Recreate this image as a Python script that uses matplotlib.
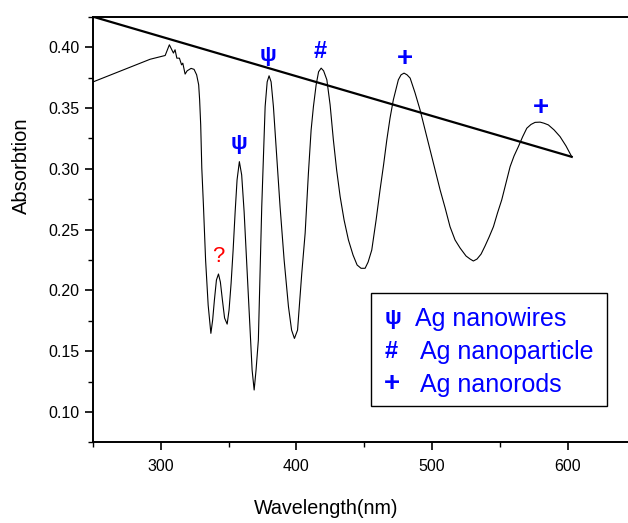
import matplotlib
matplotlib.use("Agg")
import matplotlib.pyplot as plt
from matplotlib.ticker import MultipleLocator, FormatStrFormatter
from matplotlib.patches import Rectangle

plt.rcParams['font.family'] = ['Liberation Sans', 'DejaVu Sans']

# ---- data ----
wavelength = [250.1, 292.1, 303.2, 306.3, 309.3, 310.5, 311.8, 313.7, 315.3, 316.2,
              317.9, 319.4, 322.3, 324.5, 326.4, 327.9, 328.6, 329.4, 330.2, 331.4,
              333.0, 334.9, 336.9, 338.2, 339.5, 341.0, 342.5, 343.9, 345.4, 347.0,
              348.9, 350.3, 351.8, 353.3, 354.8, 356.2, 357.9, 359.6, 361.4, 363.6,
              365.8, 367.3, 368.8, 370.2, 371.9, 373.2, 374.4, 375.8, 376.9, 378.4,
              379.8, 381.3, 383.0, 385.4, 387.9, 390.9, 394.1, 396.4, 398.5, 400.8,
              403.9, 406.4, 408.8, 410.8, 412.5, 414.5, 416.3, 418.2, 420.0, 422.4,
              424.8, 427.2, 429.6, 432.2, 435.1, 438.3, 441.7, 444.7, 447.6, 450.6,
              452.8, 455.5, 458.7, 461.6, 464.2, 466.6, 469.0, 471.4, 475.1, 477.1,
              479.3, 481.5, 483.8, 487.4, 491.1, 494.8, 498.5, 502.2, 505.9, 509.6,
              513.2, 516.9, 520.6, 525.0, 528.0, 530.4, 533.1, 536.1, 539.0, 542.0,
              545.2, 548.2, 551.3, 554.5, 557.5, 560.4, 563.6, 566.7, 569.8, 572.9,
              575.9, 579.6, 582.5, 585.7, 589.9, 594.3, 598.7, 602.9]
absorption = [0.3714, 0.3900, 0.3931, 0.4019, 0.3951, 0.3978, 0.3909, 0.3909, 0.3854, 0.3868,
              0.3778, 0.3805, 0.3825, 0.3817, 0.3772, 0.3690, 0.3567, 0.3360, 0.3006, 0.2702,
              0.2249, 0.1878, 0.1646, 0.1755, 0.1920, 0.2085, 0.2134, 0.2068, 0.1920, 0.1772,
              0.1722, 0.1838, 0.2057, 0.2331, 0.2647, 0.2908, 0.3058, 0.2949, 0.2647, 0.2167,
              0.1673, 0.1344, 0.1180, 0.1344, 0.1591, 0.2167, 0.2688, 0.3155, 0.3511, 0.3714,
              0.3764, 0.3714, 0.3511, 0.3113, 0.2688, 0.2249, 0.1865, 0.1673, 0.1604, 0.1673,
              0.2139, 0.2471, 0.2963, 0.3319, 0.3511, 0.3690, 0.3797, 0.3827, 0.3805, 0.3731,
              0.3525, 0.3237, 0.2990, 0.2770, 0.2578, 0.2414, 0.2290, 0.2208, 0.2181, 0.2181,
              0.2232, 0.2331, 0.2578, 0.2825, 0.3031, 0.3237, 0.3418, 0.3566, 0.3731, 0.3772,
              0.3786, 0.3772, 0.3745, 0.3624, 0.3484, 0.3319, 0.3155, 0.2990, 0.2825, 0.2677,
              0.2523, 0.2414, 0.2348, 0.2282, 0.2257, 0.2241, 0.2257, 0.2298, 0.2364, 0.2438,
              0.2523, 0.2636, 0.2743, 0.2883, 0.3017, 0.3105, 0.3182, 0.3262, 0.3333, 0.3364,
              0.3381, 0.3383, 0.3374, 0.3360, 0.3319, 0.3264, 0.3187, 0.3099]

baseline_x = [250.0, 603.7]
baseline_y = [0.425, 0.3095]

peak_symbols = ['ψ', 'ψ', '#', '+', '+']
peak_x = [357.9, 379.3, 417.4, 479.6, 580.1]
peak_y = [0.321, 0.3935, 0.3964, 0.390, 0.3503]

unknown_label = '?'
unknown_x = 342.0
unknown_y = 0.2282

legend_symbols = ['ψ', '#', '+']
legend_labels = ['Ag nanowires', 'Ag nanoparticle', 'Ag nanorods']

x_ticks = [300, 400, 500, 600]
y_ticks = [0.10, 0.15, 0.20, 0.25, 0.30, 0.35, 0.40]

SYM_SIZE = {'ψ': 16, '#': 17, '+': 20}

# ---- figure ----
W, H = 628, 523
fig = plt.figure(figsize=(W / 100, H / 100), dpi=100)
ax_l, ax_r, ax_t, ax_b = 93, 628, 16.7, 442.3
ax = fig.add_axes([ax_l / W, 1 - ax_b / H, (ax_r - ax_l) / W, (ax_b - ax_t) / H])

ax.plot(wavelength, absorption, color='black', lw=0.8)
ax.plot(baseline_x, baseline_y, color='black', lw=1.6, solid_capstyle='butt')

ax.set_xlim(250, 644.4)
ax.set_ylim(0.075, 0.425)

ax.set_xticks(x_ticks)
ax.set_yticks(y_ticks)
ax.xaxis.set_minor_locator(MultipleLocator(50))
ax.yaxis.set_minor_locator(MultipleLocator(0.025))
ax.yaxis.set_major_formatter(FormatStrFormatter('%.2f'))

for s in ['left', 'bottom', 'top']:
    ax.spines[s].set_linewidth(1.4)
ax.spines['right'].set_visible(False)

ax.tick_params(which='major', direction='out', length=6, width=1.2, labelsize=11.5,
               top=False, right=False)
ax.tick_params(which='minor', direction='out', length=3.5, width=1.0,
               top=False, right=False)
ax.tick_params(axis='x', which='major', pad=6)
ax.tick_params(axis='y', which='major', pad=3.5)

fig.text(21 / W, 1 - 166 / H, 'Absorbtion', rotation=90, ha='center', va='center',
         fontsize=14.5)
fig.text(326 / W, 1 - 508 / H, 'Wavelength(nm)', ha='center', va='center', fontsize=14.2)

for sym, px, py in zip(peak_symbols, peak_x, peak_y):
    ax.text(px, py, sym, color='blue', fontsize=SYM_SIZE[sym], fontweight='bold',
            ha='center', va='center')
ax.text(unknown_x, unknown_y, unknown_label, color='red', fontsize=16,
        ha='center', va='center')

# legend box (manual, to match the original layout)
bx0, bx1 = (371.3 - ax_l) / (ax_r - ax_l), (606.7 - ax_l) / (ax_r - ax_l)
by0, by1 = (ax_b - 405.7) / (ax_b - ax_t), (ax_b - 292.7) / (ax_b - ax_t)
ax.add_patch(Rectangle((bx0, by0), bx1 - bx0, by1 - by0, transform=ax.transAxes,
                       facecolor='white', edgecolor='black', lw=1.0, zorder=5))
row_center = [316.7, 350, 382.3]
row_base = [326, 359, 391.7]
sym_x = [392.7, 390.7, 392.3]
text_x = [415, 420, 420]
for sym, lab, yc, yb, sx, tx in zip(legend_symbols, legend_labels, row_center, row_base,
                                    sym_x, text_x):
    fig.text(sx / W, 1 - (yc + 2) / H, sym, color='blue', fontsize=SYM_SIZE[sym],
             fontweight='bold', ha='center', va='center', zorder=6)
    fig.text(tx / W, 1 - yb / H, lab, color='blue', fontsize=18,
             ha='left', va='baseline', zorder=6)

fig.savefig('out.png', dpi=100)
